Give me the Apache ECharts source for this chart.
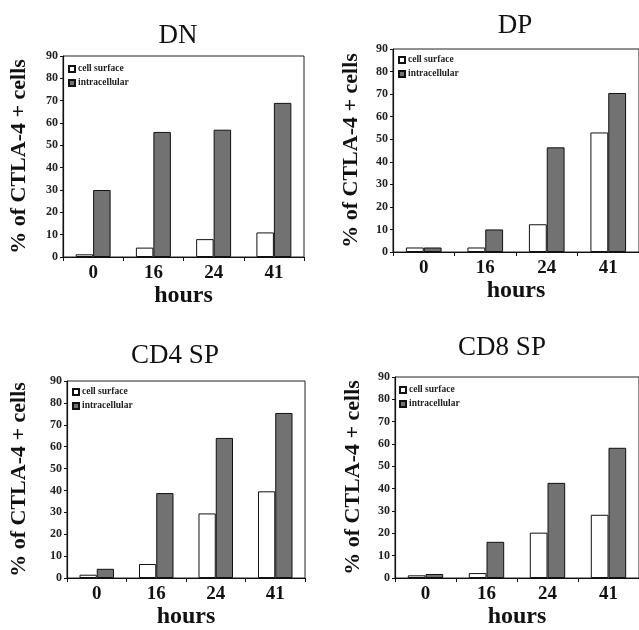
<!DOCTYPE html>
<html><head><meta charset="utf-8">
<script src="https://cdn.jsdelivr.net/npm/echarts@6/dist/echarts.min.js"></script>
<style>html,body{margin:0;padding:0;background:#fff}#c{width:639px;height:630px}</style>
</head><body><div id="c"></div>
<script>
const categories = ['0', '16', '24', '41'];
const panelTitles = ['DN', 'DP', 'CD4 SP', 'CD8 SP'];
const seriesNames = ['cell surface', 'intracellular'];
const yTicks = [0, 10, 20, 30, 40, 50, 60, 70, 80, 90];
const dnSurface = [1.2, 4.2, 8, 11];
const dnIntra = [30, 56, 57, 69];
const dpSurface = [2, 2, 12.3, 53];
const dpIntra = [2, 10, 46.4, 70.5];
const cd4Surface = [1.5, 6.4, 29.5, 39.6];
const cd4Intra = [4.2, 38.8, 64, 75.4];
const cd8Surface = [1.2, 2.2, 20.3, 28.3];
const cd8Intra = [1.8, 16.2, 42.6, 58.3];

const surfaces = [dnSurface, dpSurface, cd4Surface, cd8Surface];
const intras = [dnIntra, dpIntra, cd4Intra, cd8Intra];

const FONT = '"Liberation Serif", "DejaVu Serif", serif';
const layout = [
  {left: 63, top: 56, width: 241, height: 201, tx: 173, ty: 17, lx: 68, ly: 64, nameGap: 33},
  {left: 393, top: 49, width: 246, height: 203, tx: 510, ty: 7, lx: 398, ly: 55, nameGap: 31},
  {left: 67, top: 381, width: 238, height: 202, tx: 170, ty: 337, lx: 72, ly: 387, nameGap: 37},
  {left: 395, top: 377, width: 248, height: 205, tx: 497, ty: 329, lx: 399, ly: 385, nameGap: 31}
];

const option = {
  animation: false,
  backgroundColor: '#fff',
  title: layout.map((p, i) => ({
    text: panelTitles[i], left: p.tx, top: p.ty, textAlign: 'center',
    textStyle: {fontFamily: FONT, fontSize: 27, fontWeight: 'normal', color: '#111'}
  })),
  legend: layout.map(p => ({
    data: seriesNames, orient: 'vertical', left: p.lx, top: p.ly,
    itemWidth: 6, itemHeight: 6, itemGap: 4, icon: 'rect', padding: 0,
    textStyle: {fontFamily: FONT, fontSize: 9.5, fontWeight: 'bold', color: '#222', padding: [0, 0, 0, -2]}
  })),
  grid: layout.map(p => ({
    left: p.left, top: p.top, width: p.width, height: p.height,
    show: true, borderColor: '#222', borderWidth: 1, backgroundColor: 'transparent'
  })),
  xAxis: layout.map((p, i) => ({
    type: 'category', gridIndex: i, data: categories,
    name: 'hours', nameLocation: 'middle', nameGap: 27,
    nameTextStyle: {fontFamily: FONT, fontSize: 24, fontWeight: 'bold', color: '#111'},
    axisLine: {lineStyle: {color: '#111', width: 1.2}},
    axisTick: {show: true, length: 4, lineStyle: {color: '#111'}},
    axisLabel: {fontFamily: FONT, fontSize: 19, fontWeight: 'bold', color: '#111', margin: 7},
    splitLine: {show: false}
  })),
  yAxis: layout.map((p, i) => ({
    type: 'value', gridIndex: i, min: yTicks[0], max: yTicks[yTicks.length - 1], interval: 10,
    name: '% of CTLA-4 + cells', nameLocation: 'middle', nameGap: p.nameGap,
    nameTextStyle: {fontFamily: FONT, fontSize: 22, fontWeight: 'bold', color: '#111'},
    axisLine: {show: true, lineStyle: {color: '#111', width: 1.2}},
    axisTick: {show: true, length: 3, lineStyle: {color: '#111'}},
    axisLabel: {fontFamily: FONT, fontSize: 12, fontWeight: 'bold', color: '#222', margin: 5},
    splitLine: {show: false}
  })),
  series: []
};

layout.forEach((p, i) => {
  option.series.push({
    name: seriesNames[0], type: 'bar', xAxisIndex: i, yAxisIndex: i,
    data: surfaces[i], barWidth: '29%', barGap: '0%',
    itemStyle: {color: '#ffffff', borderColor: '#111', borderWidth: 1}
  });
  option.series.push({
    name: seriesNames[1], type: 'bar', xAxisIndex: i, yAxisIndex: i,
    data: intras[i], barWidth: '29%', barGap: '0%',
    itemStyle: {color: '#727272', borderColor: '#111', borderWidth: 1}
  });
});

const chart = echarts.init(document.getElementById('c'), null, {renderer: 'canvas'});
chart.setOption(option);
</script>
</body></html>
